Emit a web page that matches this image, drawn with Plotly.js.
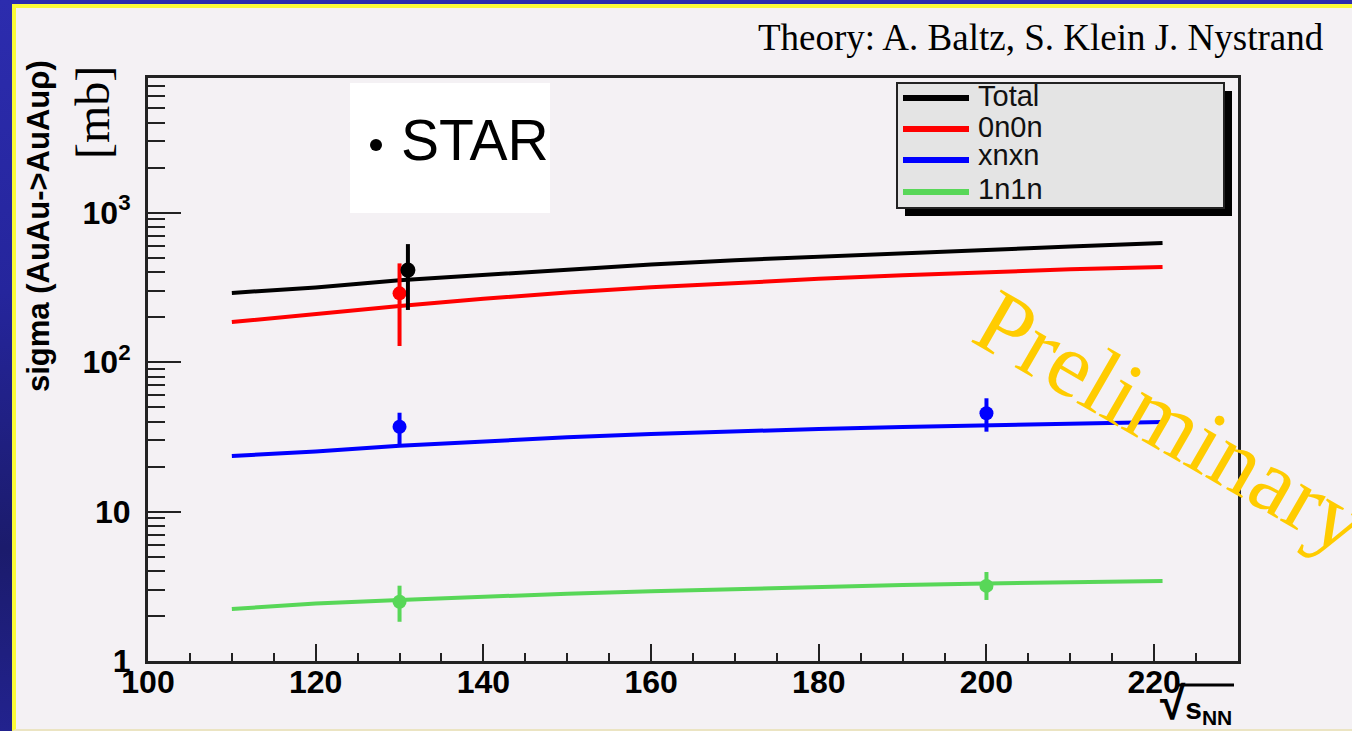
<!DOCTYPE html>
<html>
<head>
<meta charset="utf-8">
<script src="https://cdn.plot.ly/plotly-3.0.1.min.js"></script>
<style>
  html, body { margin: 0; padding: 0; width: 1352px; height: 731px; overflow: hidden; }
  body { background: linear-gradient(to bottom, #2c2cae 0%, #25259c 40%, #1b1b6c 75%, #22228e 100%); }
  #frame { position: absolute; left: 12px; top: 4px; width: 1336px; height: 721px;
           background: #f4f1f4; border-left: 4px solid #fbfb38; border-top: 4px solid #fbfb38;
           border-bottom: 2px solid #ebe4c2; }
  #chart { position: absolute; left: 16px; top: 8px; width: 1336px; height: 721px; }
</style>
</head>
<body>
<div id="frame"></div>
<div id="chart"></div>
<script>
// Theory curves: coherent rho0 production cross section vs collision energy
const energy      = [110, 120, 130, 140, 150, 160, 170, 180, 190, 200, 210, 221];
const sigmaTotal  = [290, 315, 352, 382, 415, 450, 480, 508, 535, 562, 592, 625];
const sigma0n0n   = [185, 210, 237, 265, 292, 316, 338, 360, 380, 400, 417, 432];
const sigmaXnXn   = [23.5, 25.2, 27.5, 29.6, 31.4, 33.0, 34.4, 35.7, 36.8, 37.8, 39.0, 39.7];
const sigma1n1n   = [2.23, 2.42, 2.56, 2.70, 2.82, 2.93, 3.03, 3.13, 3.22, 3.30, 3.37, 3.43];

// STAR measurements: value with upper / lower error limits
const starTotalE  = [131];
const starTotal   = [412];
const starTotalHi = [615];
const starTotalLo = [223];

const star0n0nE   = [130];
const star0n0n    = [288];
const star0n0nHi  = [457];
const star0n0nLo  = [128];

const starXnXnE   = [130, 200];
const starXnXn    = [36.9, 45.4];
const starXnXnHi  = [45.8, 57.2];
const starXnXnLo  = [28.0, 34.2];

const star1n1nE   = [130, 200];
const star1n1n    = [2.49, 3.18];
const star1n1nHi  = [3.19, 3.94];
const star1n1nLo  = [1.83, 2.56];

const yTickVals = [1, 10, 100, 1000];
const yTickText = ['1', '10', '10<sup>2</sup>', '10<sup>3</sup>'];

const seriesNames  = ['Total', '0n0n', 'xnxn', '1n1n'];
const seriesColors = ['#000000', '#ff0000', '#0000ff', '#58d758'];
const seriesValues = [sigmaTotal, sigma0n0n, sigmaXnXn, sigma1n1n];

function theory(i) {
  return { x: energy, y: seriesValues[i], name: seriesNames[i], type: 'scatter', mode: 'lines',
           line: { color: seriesColors[i], width: 4 }, showlegend: false, hoverinfo: 'skip' };
}
function points(x, y, hi, lo, color, size) {
  return { x: x, y: y, type: 'scatter', mode: 'markers', showlegend: false,
           marker: { color: color, size: size, symbol: 'circle' },
           error_y: { type: 'data', symmetric: false,
                      array: hi.map((v, i) => v - y[i]),
                      arrayminus: lo.map((v, i) => y[i] - v),
                      color: color, thickness: 4, width: 0 },
           cliponaxis: false };
}

const traces = [
  theory(0), theory(1), theory(2), theory(3),
  points(star0n0nE, star0n0n, star0n0nHi, star0n0nLo, seriesColors[1], 14),
  points(starTotalE, starTotal, starTotalHi, starTotalLo, seriesColors[0], 15),
  points(starXnXnE, starXnXn, starXnXnHi, starXnXnLo, seriesColors[2], 14),
  points(star1n1nE, star1n1n, star1n1nHi, star1n1nLo, seriesColors[3], 14)
];

// paper coordinates from page pixels (plot area spans 148..1238 x 78..661)
const px = X => (X - 148) / 1090;
const py = Y => (661 - Y) / 583;

const SANS = 'Liberation Sans, Arial, sans-serif';
const SERIF = 'Liberation Serif, Times New Roman, serif';
const tickFont = { family: SANS, size: 32, color: '#000', weight: 'bold' };

const shapes = [
  // STAR key box
  { type: 'rect', xref: 'paper', yref: 'paper', x0: px(350), x1: px(550), y0: py(213), y1: py(83),
    fillcolor: '#ffffff', line: { width: 0 }, layer: 'above' },
  { type: 'circle', xref: 'paper', yref: 'paper', x0: px(370), x1: px(382), y0: py(151), y1: py(139),
    fillcolor: '#000', line: { width: 0 }, layer: 'above' },
  // legend frame with drop shadow
  { type: 'rect', xref: 'paper', yref: 'paper', x0: px(905), x1: px(1232), y0: py(216), y1: py(91),
    fillcolor: '#000', line: { width: 0 }, layer: 'above' },
  { type: 'rect', xref: 'paper', yref: 'paper', x0: px(897), x1: px(1224), y0: py(208), y1: py(83),
    fillcolor: '#e4e4e4', line: { color: '#222', width: 2 }, layer: 'above' },
  // bar of the square-root sign in the x label
  { type: 'line', xref: 'paper', yref: 'paper', x0: px(1178), x1: px(1234), y0: py(685), y1: py(685),
    line: { color: '#000', width: 3 }, layer: 'above' }
];

const annotations = [
  { text: 'Theory: A. Baltz, S. Klein J. Nystrand', xref: 'paper', yref: 'paper',
    x: px(1326), y: py(38), xanchor: 'right', yanchor: 'middle', showarrow: false,
    font: { family: SERIF, size: 37, color: '#000' } },
  { text: 'sigma (AuAu-&gt;AuAuρ)', xref: 'paper', yref: 'paper', textangle: -90,
    x: px(38), y: py(226), xanchor: 'center', yanchor: 'middle', showarrow: false,
    font: { family: SANS, size: 31, color: '#000', weight: 'bold' } },
  { text: '[mb]', xref: 'paper', yref: 'paper', textangle: -90,
    x: px(92), y: py(113), xanchor: 'center', yanchor: 'middle', showarrow: false,
    font: { family: SERIF, size: 48, color: '#000' } },
  { text: 'STAR', xref: 'paper', yref: 'paper',
    x: px(399), y: py(140), xanchor: 'left', yanchor: 'middle', showarrow: false,
    font: { family: SANS, size: 57, color: '#000' } },
  { text: 'Preliminary', xref: 'paper', yref: 'paper', textangle: 30,
    x: px(1172), y: py(422), xanchor: 'center', yanchor: 'middle', showarrow: false,
    font: { family: SERIF, size: 92, color: '#ffcc00' } },
  { text: '<span style="font-size:46px">√</span>s<sub>NN</sub>', xref: 'paper', yref: 'paper',
    x: px(1158), y: py(703), xanchor: 'left', yanchor: 'middle', showarrow: false,
    font: { family: SANS, size: 30, color: '#000', weight: 'bold' } }
];

// legend key: sample lines and names
const legendLineY = [98, 129, 160, 192];
const legendTextY = [96, 127, 155, 189];
seriesNames.forEach((name, i) => {
  shapes.push({ type: 'line', xref: 'paper', yref: 'paper',
                x0: px(903), x1: px(969), y0: py(legendLineY[i]), y1: py(legendLineY[i]),
                line: { color: seriesColors[i], width: 6 }, layer: 'above' });
  annotations.push({ text: name, xref: 'paper', yref: 'paper',
                     x: px(976), y: py(legendTextY[i]), xanchor: 'left', yanchor: 'middle',
                     showarrow: false, font: { family: SANS, size: 29, color: '#111' } });
});

const layout = {
  width: 1336, height: 721,
  margin: { l: 132, r: 114, t: 70, b: 68 },
  paper_bgcolor: 'rgba(0,0,0,0)',
  plot_bgcolor: '#f4f1f4',
  showlegend: false,
  xaxis: {
    type: 'linear', range: [100, 230],
    tick0: 100, dtick: 20, ticks: 'inside', ticklen: 17, tickwidth: 2, tickcolor: '#222',
    minor: { dtick: 5, ticks: 'inside', ticklen: 8, tickwidth: 2, tickcolor: '#222' },
    showline: true, linecolor: '#222', linewidth: 3, mirror: true,
    showgrid: false, zeroline: false, ticklabelstandoff: -9,
    tickfont: tickFont
  },
  yaxis: {
    type: 'log', range: [0, 3.9],
    tickmode: 'array', tickvals: yTickVals, ticktext: yTickText,
    ticks: 'inside', ticklen: 33, tickwidth: 2, tickcolor: '#222',
    minor: { dtick: 'D1', ticks: 'inside', ticklen: 17, tickwidth: 2, tickcolor: '#222' },
    showline: true, linecolor: '#222', linewidth: 3, mirror: true,
    showgrid: false, zeroline: false, ticklabelstandoff: 8,
    tickfont: tickFont
  },
  shapes: shapes,
  annotations: annotations
};

Plotly.newPlot('chart', traces, layout, { staticPlot: true, displayModeBar: false });
</script>
</body>
</html>
